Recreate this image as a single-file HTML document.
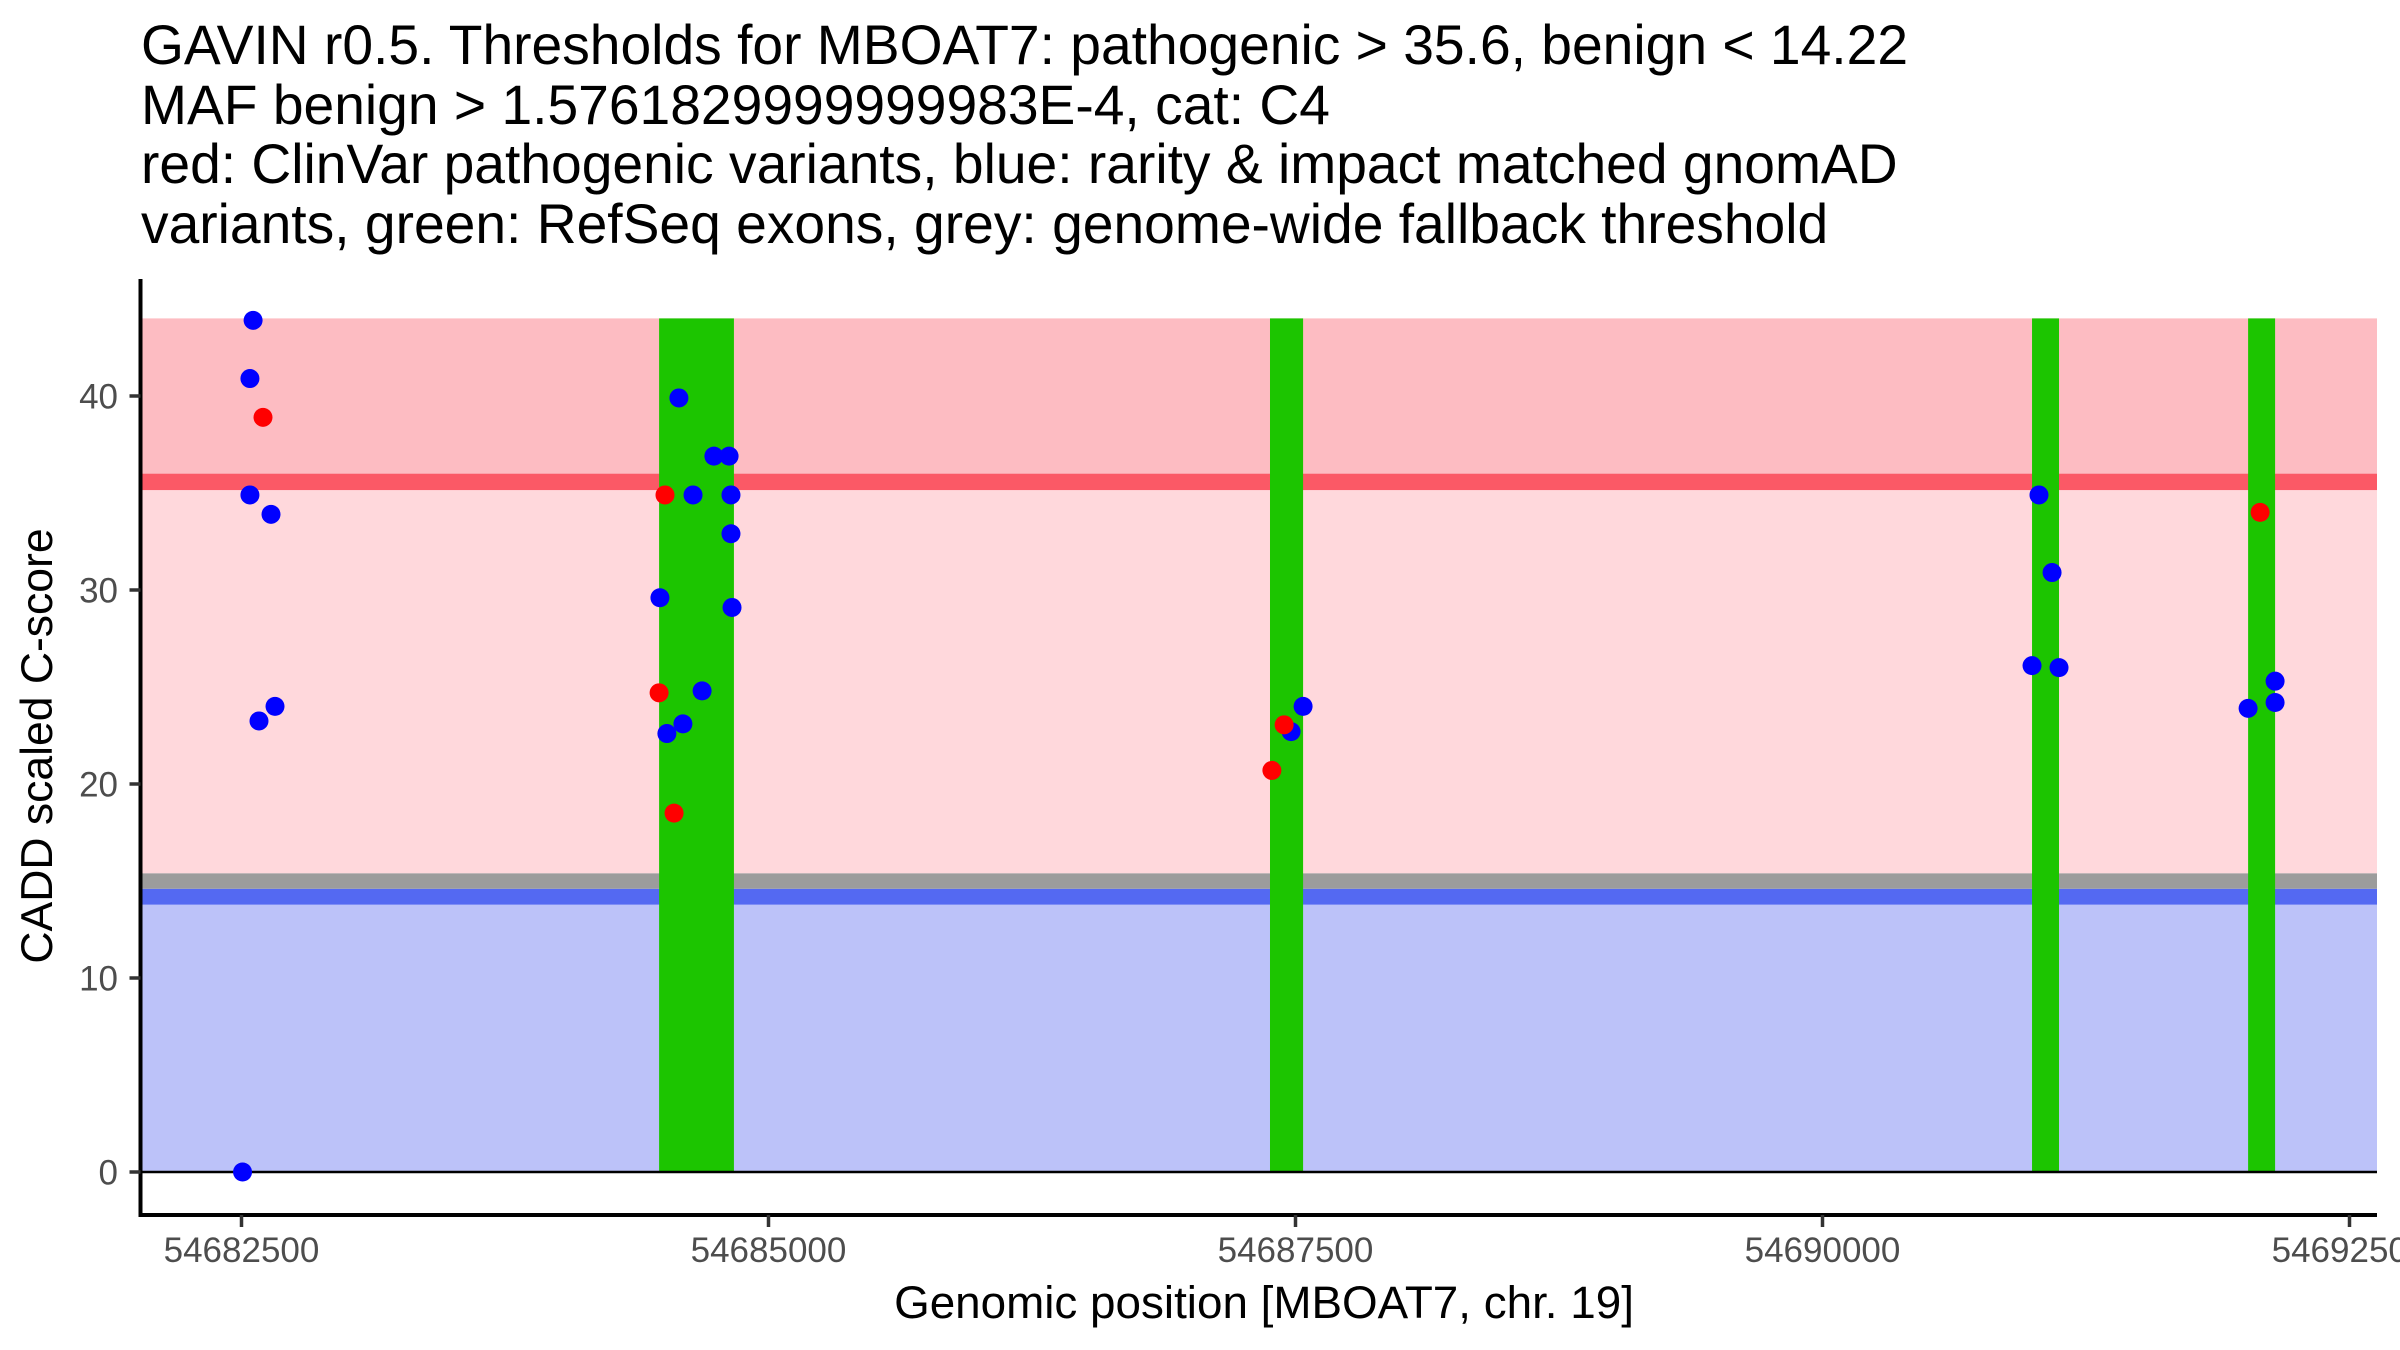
<!DOCTYPE html>
<html><head><meta charset="utf-8"><style>
html,body{margin:0;padding:0;background:#fff;}
svg{display:block;font-family:"Liberation Sans",Arial,sans-serif;}
</style></head><body>
<svg id="chart" width="2400" height="1350" viewBox="0 0 2400 1350" xmlns="http://www.w3.org/2000/svg">
<g font-size="55.2" fill="#000">
<text x="141" y="64">GAVIN r0.5. Thresholds for MBOAT7: pathogenic &gt; 35.6, benign &lt; 14.22</text>
<text x="141" y="124">MAF benign &gt; 1.5761829999999983E-4, cat: C4</text>
<text x="141" y="183">red: ClinVar pathogenic variants, blue: rarity &amp; impact matched gnomAD</text>
<text x="141" y="243">variants, green: RefSeq exons, grey: genome-wide fallback threshold</text>
</g>
<g id="bands"></g>
<g id="exons"></g>
<g id="zero"></g>
<g id="points"></g>
<g id="axes"></g>
<text x="1264" y="1318" font-size="45.8" text-anchor="middle" fill="#000">Genomic position [MBOAT7, chr. 19]</text>
<text transform="translate(52,746) rotate(-90)" font-size="44.5" text-anchor="middle" fill="#000">CADD scaled C-score</text>
</svg>
<script>
const bandLo = [0, 13.78, 14.6, 15.4, 35.15, 36.0];
const bandHi = [13.78, 14.6, 15.4, 35.15, 36.0, 44];
const bandColors = ["#bcc2f9", "#5469f2", "#9c9c9c", "#ffd8dc", "#fb5966", "#fdbcc2"];
const exonStart = [54684481, 54687379, 54690994, 54692019];
const exonEnd = [54684836, 54687536, 54691122, 54692147];
const redX = [54682602, 54684509, 54684481, 54684552, 54687446, 54687388, 54692076];
const redY = [38.9, 34.9, 24.7, 18.5, 23.05, 20.7, 34.0];
const blueX = [54682555, 54682540, 54682540, 54682640, 54682659, 54682583, 54682505,
  54684575, 54684741, 54684813, 54684642, 54684822, 54684822, 54684485, 54684827, 54684685, 54684594, 54684518,
  54687536, 54687479,
  54691027, 54691089, 54690994, 54691122,
  54692019, 54692147, 54692147];
const blueY = [43.9, 40.9, 34.9, 33.9, 24.0, 23.25, 0,
  39.9, 36.9, 36.9, 34.9, 34.9, 32.9, 29.6, 29.1, 24.8, 23.1, 22.6,
  24.0, 22.7,
  34.9, 30.9, 26.1, 26.0,
  23.9, 25.3, 24.2];
const xTicks = [54682500, 54685000, 54687500, 54690000, 54692500];
const yTicks = [0, 10, 20, 30, 40];

const NS = "http://www.w3.org/2000/svg";
const PL = 140.5, PR = 2377, PT = 279, PB = 1215;
function xs(v){ return 241.5 + (v - 54682500) * 0.2108; }
function ys(v){ return 1172 - v * 19.4; }
function mk(tag, attrs, parent){
  const e = document.createElementNS(NS, tag);
  for (const k in attrs) e.setAttribute(k, attrs[k]);
  parent.appendChild(e); return e;
}
const gB = document.getElementById("bands");
for (let i = 0; i < bandLo.length; i++) {
  const r = mk("rect", {x: PL + 2, y: ys(bandHi[i]), width: PR - PL - 2, height: ys(bandLo[i]) - ys(bandHi[i]), fill: bandColors[i]}, gB);
  
  
}
const gE = document.getElementById("exons");
for (let i = 0; i < exonStart.length; i++) {
  const r = mk("rect", {x: xs(exonStart[i]), y: ys(44), width: xs(exonEnd[i]) - xs(exonStart[i]), height: ys(0) - ys(44), fill: "#1cc500"}, gE);
  
  
}
const gZ = document.getElementById("zero");
const zl = mk("line", {x1: PL, x2: PR, y1: ys(0), y2: ys(0), stroke: "#000", "stroke-width": 2.5}, gZ);


const gP = document.getElementById("points");
for (let i = 0; i < blueX.length; i++) {
  const c = mk("circle", {cx: xs(blueX[i]), cy: ys(blueY[i]), r: 9.5, fill: "#0000ff"}, gP);
  
  
}
for (let i = 0; i < redX.length; i++) {
  const c = mk("circle", {cx: xs(redX[i]), cy: ys(redY[i]), r: 9.5, fill: "#ff0000"}, gP);
  
  
}
const gA = document.getElementById("axes");
const ya = mk("line", {x1: PL, x2: PL, y1: PT, y2: PB + 2, stroke: "#000", "stroke-width": 4}, gA);


const xa = mk("line", {x1: PL - 2, x2: PR, y1: PB, y2: PB, stroke: "#000", "stroke-width": 4}, gA);


for (const t of yTicks) {
  const tk = mk("line", {x1: PL - 11, x2: PL, y1: ys(t), y2: ys(t), stroke: "#333", "stroke-width": 3.5}, gA);
  
  
  const lb = mk("text", {x: 118, y: ys(t) + 12.5, "font-size": 35, "text-anchor": "end", fill: "#4d4d4d"}, gA);
  lb.textContent = String(t);
  
  
}
for (const t of xTicks) {
  const tk = mk("line", {x1: xs(t), x2: xs(t), y1: PB, y2: PB + 12, stroke: "#333", "stroke-width": 3.5}, gA);
  
  
  const lb = mk("text", {x: xs(t), y: 1262, "font-size": 35, "text-anchor": "middle", fill: "#4d4d4d"}, gA);
  lb.textContent = String(t);
  
  
}
</script>
</body></html>
